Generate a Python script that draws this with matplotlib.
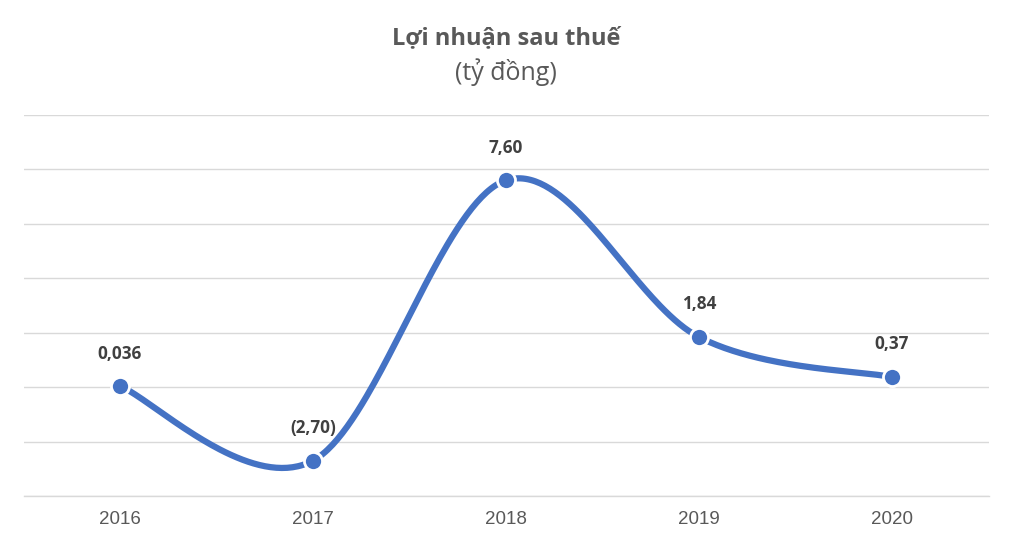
import numpy as np
import matplotlib
matplotlib.use("Agg")
import matplotlib.pyplot as plt

years = ["2016", "2017", "2018", "2019", "2020"]
profit = [0.036, -2.70, 7.60, 1.84, 0.37]
labels = ["0,036", "(2,70)", "7,60", "1,84", "0,37"]
title = "Lợi nhuận sau thuế"
subtitle = "(tỷ đồng)"

LINE = "#4472C4"
GRID = "#D9D9D9"
TXT = "#595959"

def smooth(xs, ys, k=1/6, n=80):
    xs = np.asarray(xs, float); ys = np.asarray(ys, float)
    px, py = [], []
    m = len(xs)
    for i in range(m - 1):
        i0 = max(i - 1, 0); i3 = min(i + 2, m - 1)
        p0 = np.array([xs[i], ys[i]]); p3 = np.array([xs[i+1], ys[i+1]])
        c1 = p0 + k * (np.array([xs[i+1], ys[i+1]]) - np.array([xs[i0], ys[i0]]))
        c2 = p3 - k * (np.array([xs[i3], ys[i3]]) - np.array([xs[i], ys[i]]))
        t = np.linspace(0, 1, n)[:, None]
        b = (1-t)**3*p0 + 3*(1-t)**2*t*c1 + 3*(1-t)*t**2*c2 + t**3*p3
        px.extend(b[:, 0]); py.extend(b[:, 1])
    return np.array(px), np.array(py)

fig = plt.figure(figsize=(10.12, 5.45), dpi=100)
ax = fig.add_axes([23.5/1012, 1-496/545, (988.5-23.5)/1012, (496-115)/545])

x = np.arange(len(years))
sx, sy = smooth(x, profit)
ax.plot(sx, sy, color=LINE, lw=4.5, solid_capstyle="round", zorder=3)
ax.plot(x, profit, "o", color=LINE, ms=13, mec="white", mew=2.0, zorder=4)

for xi, yi, lab in zip(x, profit, labels):
    ax.annotate(lab, (xi, yi), xytext=(0, 17), textcoords="offset points",
                ha="center", va="bottom", fontsize=12.3, fontweight="bold",
                color="#404040", family="Open Sans", zorder=5)

ax.set_xlim(-0.5, 4.5)
ax.set_ylim(-4, 10)
ax.set_yticks(np.arange(-4, 11, 2))
ax.yaxis.grid(True, color=GRID, lw=1.0)
ax.tick_params(axis="y", length=0, labelleft=False)
ax.set_xticks(x)
ax.set_xticklabels(years, fontsize=13.5, color=TXT, family="Liberation Sans")
ax.tick_params(axis="x", length=0, pad=11)
for s in ["top", "right", "left"]:
    ax.spines[s].set_visible(False)
ax.spines["bottom"].set_color(GRID)
ax.spines["bottom"].set_linewidth(1.0)
ax.set_axisbelow(True)

fig.text(0.5, 1-38/545, title, ha="center", va="center", fontsize=17,
         fontweight="bold", color=TXT, family="Open Sans")
fig.text(0.5, 1-72/545, subtitle, ha="center", va="center", fontsize=18,
         color=TXT, family="Open Sans")

fig.savefig("out.png", dpi=100)
